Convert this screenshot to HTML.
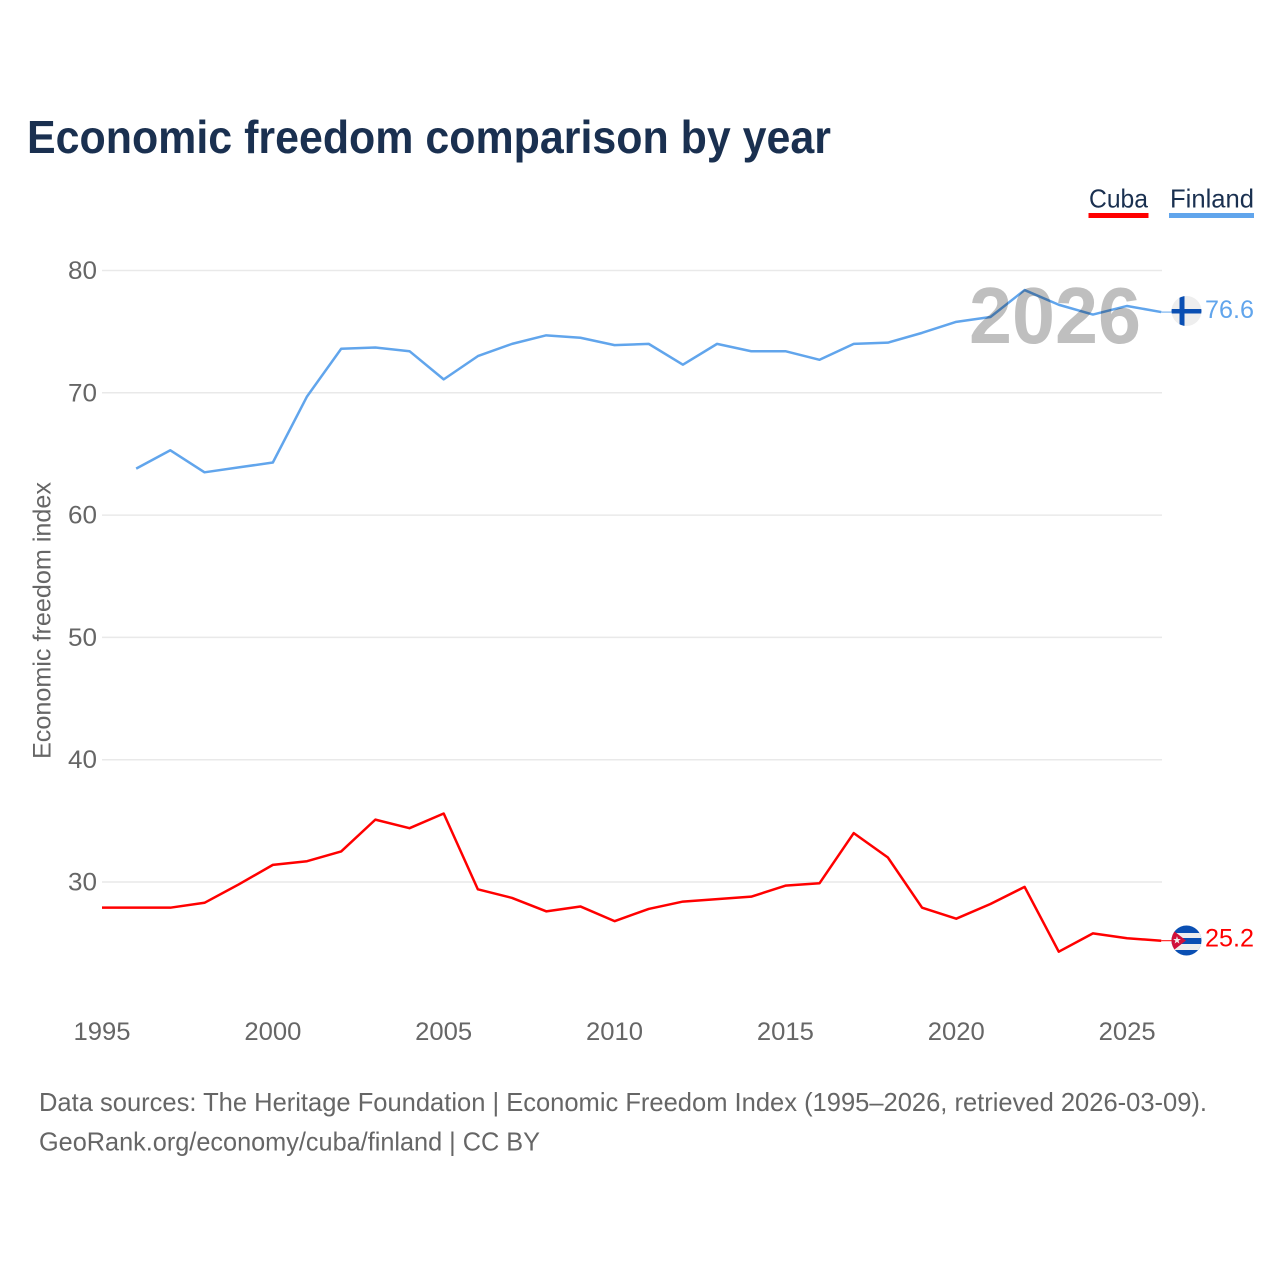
<!DOCTYPE html>
<html lang="en">
<head>
<meta charset="utf-8">
<title>Economic freedom comparison by year</title>
<style>
html,body{margin:0;padding:0;background:#fff;}
svg{display:block;font-family:"Liberation Sans",sans-serif;}
</style>
</head>
<body>
<svg id="chart" xmlns="http://www.w3.org/2000/svg" width="1280" height="1280" viewBox="0 0 1280 1280">
  <rect width="1280" height="1280" fill="#fff"/>
  <text x="27" y="153" font-size="46" font-weight="700" fill="#1a3050" textLength="804" lengthAdjust="spacingAndGlyphs">Economic freedom comparison by year</text>

  <g>
    <g>
      <text x="1089" y="207.5" font-size="26" fill="#1a3050" textLength="59" lengthAdjust="spacingAndGlyphs">Cuba</text>
      <rect x="1088.5" y="213" width="60" height="5" fill="#ff0000"/>
    </g>
    <g>
      <text x="1170" y="207.5" font-size="26" fill="#1a3050" textLength="84" lengthAdjust="spacingAndGlyphs">Finland</text>
      <rect x="1169" y="213" width="85" height="5" fill="#61a5ec"/>
    </g>
  </g>

  <g id="grid"></g>
  <g id="yticks"></g>
  <g id="xticks"></g>
  <text transform="translate(50.5,759) rotate(-90)" x="0" y="0" font-size="25" fill="#666" textLength="277" lengthAdjust="spacingAndGlyphs">Economic freedom index</text>

  <g id="series"></g>

  <text x="969" y="343" font-size="80" font-weight="700" fill="#000" fill-opacity="0.25" textLength="172" lengthAdjust="spacingAndGlyphs">2026</text>

  <defs>
    <clipPath id="clip-fi"><circle cx="1186.5" cy="311" r="15"/></clipPath>
    <clipPath id="clip-cu"><circle cx="1186.5" cy="940.5" r="15"/></clipPath>
  </defs>

  <g clip-path="url(#clip-fi)">
    <rect x="1170" y="295" width="34" height="32" fill="#eeeeee"/>
    <rect x="1179.5" y="295" width="5" height="32" fill="#0a4fb3"/>
    <rect x="1170" y="309" width="34" height="4.5" fill="#0a4fb3"/>
  </g>
  <g clip-path="url(#clip-cu)">
    <rect x="1170" y="924" width="34" height="33" fill="#0a4fb3"/>
    <rect x="1170" y="933" width="34" height="5" fill="#eeeeee"/>
    <rect x="1170" y="944" width="34" height="6" fill="#eeeeee"/>
    <polygon points="1170,928 1186,940.5 1170,953" fill="#d0103a"/>
    <text x="1177" y="943.5" font-size="10" text-anchor="middle" fill="#eeeeee" font-family="'DejaVu Sans',sans-serif">★</text>
  </g>

  <g>
    <text x="39" y="1111" font-size="26" fill="#666" textLength="1168" lengthAdjust="spacingAndGlyphs">Data sources: The Heritage Foundation | Economic Freedom Index (1995–2026, retrieved 2026-03-09).</text>
    <text x="39" y="1150.5" font-size="26" fill="#666" textLength="501" lengthAdjust="spacingAndGlyphs">GeoRank.org/economy/cuba/finland | CC BY</text>
  </g>
</svg>
<script>
const years = [1995,1996,1997,1998,1999,2000,2001,2002,2003,2004,2005,2006,2007,2008,2009,2010,2011,2012,2013,2014,2015,2016,2017,2018,2019,2020,2021,2022,2023,2024,2025,2026];
const cubaValues = [27.9,27.9,27.9,28.3,29.8,31.4,31.7,32.5,35.1,34.4,35.6,29.4,28.7,27.6,28.0,26.8,27.8,28.4,28.6,28.8,29.7,29.9,34.0,32.0,27.9,27.0,28.2,29.6,24.3,25.8,25.4,25.2];
const finlandValues = [null,63.8,65.3,63.5,63.9,64.3,69.7,73.6,73.7,73.4,71.1,73.0,74.0,74.7,74.5,73.9,74.0,72.3,74.0,73.4,73.4,72.7,74.0,74.1,74.9,75.8,76.2,78.4,77.2,76.4,77.1,76.6];
const yTickValues = [30,40,50,60,70,80];
const xTickValues = [1995,2000,2005,2010,2015,2020,2025];
const lastLabelCuba = "25.2";
const lastLabelFinland = "76.6";

const NS = "http://www.w3.org/2000/svg";
function xScale(year){ return 102 + (year - 1995) * 34.17; }
function yScale(v){ return 270.5 + (80 - v) * 12.23; }
function make(tag, attrs, parent){
  const el = document.createElementNS(NS, tag);
  for (const k in attrs) el.setAttribute(k, attrs[k]);
  parent.appendChild(el);
  return el;
}
const grid = document.getElementById('grid');
const yticks = document.getElementById('yticks');
const xticks = document.getElementById('xticks');
const series = document.getElementById('series');

yTickValues.forEach(function(v){
  const ln = make('line', {x1:102, x2:1162, y1:yScale(v), y2:yScale(v), stroke:'#e9e9e9', 'stroke-width':1.5}, grid);
  
  
  const t = make('text', {x:97, y:yScale(v)+8.5, 'text-anchor':'end', 'font-size':25, fill:'#666', textLength:29, lengthAdjust:'spacingAndGlyphs'}, yticks);
  t.textContent = v;
  
  
});
xTickValues.forEach(function(y){
  const t = make('text', {x:xScale(y), y:1040, 'text-anchor':'middle', 'font-size':25, fill:'#666', textLength:57, lengthAdjust:'spacingAndGlyphs'}, xticks);
  t.textContent = y;
  
  
});

function drawSeries(name, values, color, label){
  let d = '';
  let lastY = 0;
  values.forEach(function(v, i){
    if (v === null) return;
    lastY = yScale(v);
    d += (d ? 'L' : 'M') + xScale(years[i]).toFixed(2) + ' ' + lastY.toFixed(2);
  });
  const p = make('path', {d:d, fill:'none', stroke:color, 'stroke-width':2.5, 'stroke-linejoin':'round'}, series);
  
  
  const lead = make('line', {x1:xScale(2026), x2:1172, y1:lastY, y2:lastY, stroke:color, 'stroke-width':1}, series);
  
  
  const t = make('text', {x:1205, y:lastY + 6, 'font-size':25, fill:color, textLength:49, lengthAdjust:'spacingAndGlyphs'}, series);
  t.textContent = label;
  
  
}
drawSeries('cuba', cubaValues, '#ff0000', lastLabelCuba);
drawSeries('finland', finlandValues, '#61a5ec', lastLabelFinland);
</script>
</body>
</html>
